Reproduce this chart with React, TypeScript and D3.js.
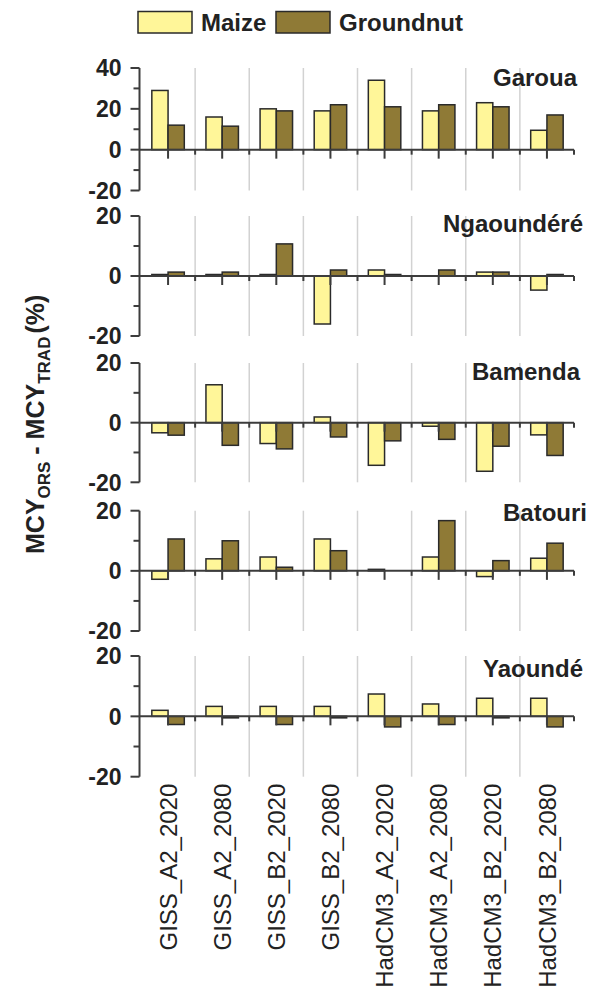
import React from "react";
import * as d3 from "d3";

// scenarios on the x axis
const scenarios = [
  "GISS_A2_2020",
  "GISS_A2_2080",
  "GISS_B2_2020",
  "GISS_B2_2080",
  "HadCM3_A2_2020",
  "HadCM3_A2_2080",
  "HadCM3_B2_2020",
  "HadCM3_B2_2080",
];

const crops = ["Maize", "Groundnut"];
const stations = ["Garoua", "Ngaoundéré", "Bamenda", "Batouri", "Yaoundé"];

// MCY_ORS - MCY_TRAD (%)
const garouaMaize = [29, 16, 20, 19, 34, 19, 23, 9.5];
const garouaGroundnut = [12, 11.5, 19, 22, 21, 22, 21, 17];
const ngaoundereMaize = [0.5, 0.5, 0.5, -16, 2, 0, 1.3, -4.7];
const ngaoundereGroundnut = [1.3, 1.3, 10.7, 2, 0.5, 2, 1.3, 0.5];
const bamendaMaize = [-3.4, 12.7, -7, 1.9, -14.3, -1.2, -16.3, -4.1];
const bamendaGroundnut = [-4.2, -7.6, -8.8, -4.8, -6.1, -5.6, -7.9, -11];
const batouriMaize = [-2.8, 4, 4.6, 10.6, 0.5, 4.6, -1.9, 4.2];
const batouriGroundnut = [10.6, 10, 1.2, 6.7, 0, 16.7, 3.4, 9.2];
const yaoundeMaize = [2, 3.3, 3.3, 3.3, 7.4, 4.1, 6, 6];
const yaoundeGroundnut = [-2.7, -0.5, -2.7, -0.5, -3.5, -2.7, -0.5, -3.5];

const maizeSeries = [garouaMaize, ngaoundereMaize, bamendaMaize, batouriMaize, yaoundeMaize];
const groundnutSeries = [garouaGroundnut, ngaoundereGroundnut, bamendaGroundnut, batouriGroundnut, yaoundeGroundnut];

// y axis range of each panel
const yDomains = [
  [-20, 40],
  [-20, 20],
  [-20, 20],
  [-20, 20],
  [-20, 20],
];

// layout
const W = 593;
const H = 995;
const axisX = 139.5;
const axisRight = 574;
const panelTop = [68, 216, 363, 510.7, 656];
const panelBottom = [190.5, 336, 482.3, 631, 776.7];
const labelDy = [18, 16, 16.5, 10.5, 20.5];
const labelRight = [577, 583, 580, 587, 583];
const font = "'Liberation Sans', Arial, Helvetica, sans-serif";
const axisColor = "#3c3c3c";
const colors = { Maize: "#fff699", Groundnut: "#8f7a36" };

const x = d3
  .scaleBand<string>()
  .domain(scenarios)
  .range([axisX + 1.5, axisRight])
  .paddingInner(0.4)
  .paddingOuter(0.2);
const xCrop = d3.scaleBand<string>().domain(crops).range([0, x.bandwidth()]);
const step = x.step();

const Panel = ({ i }: { i: number }) => {
  const [lo, hi] = yDomains[i];
  const y = d3.scaleLinear().domain([lo, hi]).range([panelBottom[i], panelTop[i]]);
  const major = d3.range(lo, hi + 1, 20);
  const minor = d3.range(lo + 10, hi, 20);
  const y0 = y(0);
  const series = [maizeSeries[i], groundnutSeries[i]];
  return (
    <g>
      {/* grey separators */}
      {scenarios.slice(1).map((s) => {
        const gx = (x(s) as number) - (step * 0.4) / 2;
        return (
          <line key={s} x1={gx} x2={gx} y1={y(hi)} y2={y(lo)} stroke="#d2d2d2" strokeWidth={1.5} />
        );
      })}
      {/* bars */}
      {crops.map((c, ci) =>
        series[ci].map((v, k) => {
          const bx = (x(scenarios[k]) as number) + (xCrop(c) as number);
          const top = Math.min(y(v), y0);
          const h = Math.abs(y(v) - y0);
          return (
            <rect
              key={c + k}
              x={bx}
              y={top}
              width={xCrop.bandwidth()}
              height={h}
              fill={(colors as any)[c]}
              stroke="#2a2a2a"
              strokeWidth={1.5}
            />
          );
        })
      )}
      {/* y axis */}
      <line x1={axisX} x2={axisX} y1={y(hi)} y2={y(lo)} stroke={axisColor} strokeWidth={2} />
      {major.map((t) => (
        <g key={t}>
          <line x1={axisX - 9} x2={axisX} y1={y(t)} y2={y(t)} stroke={axisColor} strokeWidth={2} />
          <text
            x={axisX - 18}
            y={y(t)}
            dy="0.36em"
            textAnchor="end"
            fontSize={23}
            fontWeight="bold"
            fill="#222"
            fontFamily={font}
          >
            {t}
          </text>
        </g>
      ))}
      {minor.map((t) => (
        <line key={t} x1={axisX - 6} x2={axisX} y1={y(t)} y2={y(t)} stroke={axisColor} strokeWidth={2} />
      ))}
      {/* x axis at zero */}
      <line x1={axisX} x2={axisRight} y1={y0} y2={y0} stroke={axisColor} strokeWidth={2} />
      {scenarios.map((s) => {
        const cx = (x(s) as number) + x.bandwidth() / 2;
        const gx = (x(s) as number) - (step * 0.4) / 2;
        return (
          <g key={s}>
            <line x1={cx} x2={cx} y1={y0} y2={y0 + 9} stroke={axisColor} strokeWidth={2} />
            {s !== scenarios[0] && (
              <line x1={gx} x2={gx} y1={y0} y2={y0 + 5} stroke={axisColor} strokeWidth={2} />
            )}
          </g>
        );
      })}
      <line x1={axisRight} x2={axisRight} y1={y0} y2={y0 + 5} stroke={axisColor} strokeWidth={2} />
      <text
        x={labelRight[i]}
        y={y(hi) + labelDy[i]}
        textAnchor="end"
        fontSize={24}
        fontWeight="bold"
        fill="#222"
        fontFamily={font}
      >
        {stations[i]}
      </text>
    </g>
  );
};

export default function App() {
  const lastBottom = panelBottom[panelBottom.length - 1];
  return (
    <svg
      width={W}
      height={H}
      viewBox={`0 0 ${W} ${H}`}
      style={{ position: "absolute", left: 0, top: 0, background: "#fff" }}
    >
      <rect width={W} height={H} fill="#fff" />
      {/* legend */}
      {crops.map((c, ci) => {
        const lx = ci === 0 ? 138 : 276;
        return (
          <g key={c}>
            <rect x={lx} y={11.5} width={54} height={21.5} fill={(colors as any)[c]} stroke="#2a2a2a" strokeWidth={1.5} />
            <text x={lx + 63} y={31} fontSize={24} fontWeight="bold" fill="#222" fontFamily={font}>
              {c}
            </text>
          </g>
        );
      })}
      {stations.map((s, i) => (
        <Panel key={s} i={i} />
      ))}
      {/* scenario labels */}
      {scenarios.map((s) => {
        const cx = (x(s) as number) + x.bandwidth() / 2;
        const ty = lastBottom + 7;
        return (
          <text
            key={s}
            transform={`translate(${cx},${ty}) rotate(-90)`}
            dy="0.36em"
            textAnchor="end"
            fontSize={24}
            fill="#222"
            fontFamily={font}
          >
            {s}
          </text>
        );
      })}
      {/* y axis title */}
      <text
        transform="translate(44,554) rotate(-90)"
        textAnchor="start"
        fontSize={25}
        fontWeight="bold"
        fill="#222"
        fontFamily={font}
      >
        <tspan>MCY</tspan>
        <tspan fontSize={17} dy={6}>ORS</tspan>
        <tspan dy={-6}> - MCY</tspan>
        <tspan fontSize={17} dy={6}>TRAD</tspan>
        <tspan dy={-6} dx={3}>(%)</tspan>
      </text>
    </svg>
  );
}
